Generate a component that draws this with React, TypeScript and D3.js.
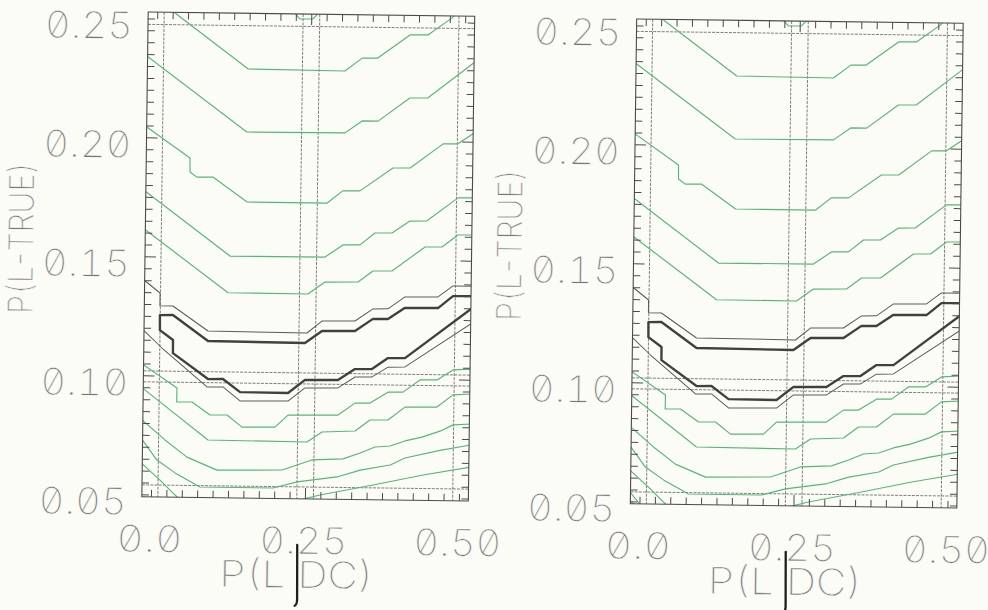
import React from 'react';
import * as d3 from 'd3';

type Pt = [number, number];

// ---- axis text ----
const xTickValues = [0, 0.25, 0.5];
const xTickLabels = ['0.0', '0.25', '0.50'];
const yTickValues = [0.05, 0.1, 0.15, 0.2, 0.25];
const yTickLabels = ['0.05', '0.10', '0.15', '0.20', '0.25'];
const xTitle = ['P(L', '|', 'DC)'];
const yTitle = 'P(L-TRUE)';

// ---- frame / reference values (data units) ----
const xMinorTicks = d3.range(0, 0.5001, 0.025);
const xMajorTicks = [0.25];
const yMinorTicks = d3.range(0.05, 0.2501, 0.005);
const yMajorTicks = [0.1, 0.15, 0.2];
const xRefLines = [0.236, 0.263];
const yRefLines = [0.0975, 0.1021];
const outerBox = [-0.0156, 0.5145, 0.0492, 0.2529];
const innerBox = [0.0104, 0.489, 0.0542, 0.2477];

// ---- contour lines (x = P(L|DC), y = P(L-TRUE)) ----
const green1: Pt[] = [[0.02, 0.2542], [0.028, 0.2526], [0.148, 0.2295], [0.305, 0.2292], [0.333, 0.2347], [0.358, 0.2348], [0.41, 0.2447], [0.439, 0.2448], [0.478, 0.2521], [0.486, 0.2545]];
const green1b: Pt[] = [[0.221, 0.2536], [0.2308, 0.2508], [0.2519, 0.2509], [0.262, 0.2536]];
const green2: Pt[] = [[-0.02, 0.235], [0.147, 0.203], [0.3065, 0.2032], [0.334, 0.2083], [0.36, 0.2083], [0.411, 0.2182], [0.44, 0.2183], [0.52, 0.2345]];
const green3: Pt[] = [[-0.02, 0.2054], [0.0554, 0.1918], [0.0557, 0.1859], [0.067, 0.1838], [0.093, 0.1839], [0.149, 0.1736], [0.279, 0.1736], [0.304, 0.1788], [0.332, 0.1789], [0.385, 0.1887], [0.413, 0.1888], [0.466, 0.1991], [0.49, 0.1992], [0.52, 0.2045]];
const green4: Pt[] = [[-0.02, 0.1783], [0.1224, 0.1508], [0.2766, 0.1509], [0.3055, 0.1561], [0.3331, 0.1562], [0.3573, 0.1613], [0.3849, 0.1614], [0.4138, 0.1665], [0.4414, 0.1667], [0.4912, 0.1765], [0.52, 0.1766]];
const green5: Pt[] = [[-0.02, 0.1622], [0.12, 0.1354], [0.2498, 0.1353], [0.2771, 0.1404], [0.3307, 0.1406], [0.3549, 0.1453], [0.3857, 0.1454], [0.4388, 0.1557], [0.4664, 0.1558], [0.492, 0.1609], [0.52, 0.161]];
const green6: Pt[] = [[-0.02, 0.1054], [0.0391, 0.0951], [0.039, 0.0892], [0.0638, 0.0893], [0.0933, 0.0839], [0.1209, 0.084], [0.1455, 0.079], [0.199, 0.0792], [0.22, 0.0843], [0.3011, 0.0846], [0.3284, 0.0897], [0.3528, 0.0898], [0.3818, 0.0945], [0.4062, 0.0946], [0.4334, 0.0998], [0.461, 0.0999], [0.4869, 0.1042], [0.52, 0.1047]];
const green7: Pt[] = [[-0.02, 0.0955], [0.0906, 0.0734], [0.2513, 0.0731], [0.2755, 0.0774], [0.3291, 0.078], [0.3531, 0.0827], [0.3823, 0.0828], [0.4096, 0.0883], [0.4615, 0.0885], [0.4873, 0.0937], [0.52, 0.0942]];
const green8: Pt[] = [[-0.02, 0.0822], [0.0208, 0.0732], [0.0568, 0.0661], [0.1058, 0.0608], [0.2114, 0.0612], [0.2356, 0.0634], [0.2597, 0.0656], [0.3101, 0.0662], [0.3377, 0.0688], [0.3619, 0.0714], [0.3862, 0.0719], [0.4104, 0.0741], [0.4378, 0.0758], [0.467, 0.0784], [0.488, 0.0811], [0.52, 0.0816]];
const green9: Pt[] = [[-0.02, 0.0745], [0.0081, 0.0647], [0.0377, 0.0594], [0.0786, 0.0536], [0.1971, 0.0536], [0.236, 0.0563], [0.3008, 0.0586], [0.3383, 0.0616], [0.387, 0.0639], [0.4107, 0.0669], [0.4674, 0.0703], [0.52, 0.0729]];
const green10a: Pt[] = [[-0.02, 0.064], [0.0135, 0.0563], [0.0382, 0.0501], [0.0513, 0.0472], [0.06, 0.045]];
const green10b: Pt[] = [[0.225, 0.045], [0.2364, 0.0484], [0.2735, 0.0509], [0.3594, 0.0554], [0.4406, 0.0599], [0.52, 0.0636]];
// extra short contours only present in the right-hand panel's lower-left corner
const greenCornerR1: Pt[] = [[-0.02, 0.0552], [-0.0032, 0.05], [0.004, 0.047]];
const greenCornerR2: Pt[] = [[-0.02, 0.0515], [-0.009, 0.0488]];

const blackThinUpper: Pt[] = [[-0.02, 0.141], [0.0096, 0.1349], [0.0097, 0.1295], [0.0308, 0.1295], [0.0883, 0.1192], [0.249, 0.1189], [0.2731, 0.124], [0.3266, 0.1242], [0.3557, 0.1294], [0.38, 0.1295], [0.4073, 0.1346], [0.4609, 0.1348], [0.4851, 0.1395], [0.52, 0.1395]];
const blackThick: Pt[] = [[0.52, 0.1353], [0.4852, 0.1352], [0.4612, 0.1301], [0.4076, 0.13], [0.3802, 0.1252], [0.3558, 0.1252], [0.3269, 0.12], [0.2734, 0.1198], [0.2459, 0.1147], [0.0885, 0.115], [0.031, 0.1257], [0.0099, 0.1256], [0.0102, 0.1193], [0.0317, 0.1152], [0.0318, 0.1097], [0.0893, 0.099], [0.1136, 0.0991], [0.1416, 0.0937], [0.2195, 0.0936], [0.2468, 0.0992], [0.3003, 0.0993], [0.3276, 0.104], [0.3552, 0.1041], [0.381, 0.1088], [0.4086, 0.1089], [0.52, 0.1309]];
const blackThinLower: Pt[] = [[-0.02, 0.12], [0.014, 0.1118], [0.0878, 0.0957], [0.1138, 0.0958], [0.1417, 0.09], [0.2196, 0.0902], [0.2469, 0.0958], [0.3005, 0.096], [0.3279, 0.1007], [0.3555, 0.1008], [0.3812, 0.105], [0.4088, 0.1052], [0.52, 0.1245]];

const greenLines = [green1, green1b, green2, green3, green4, green5, green6, green7, green8, green9, green10a, green10b];
const greenLinesRightExtra = [greenCornerR1, greenCornerR2];
const thinBlackLines = [blackThinUpper, blackThinLower];
const thickBlackLines = [blackThick];

// ---- look ----
const BG = '#fcfcf7';
const GREEN = '#55b775';
const FONT = 'Inter, "DejaVu Sans Mono", monospace';
const TEXT = '#767676';

const W = 988;
const H = 610;

const x = d3.scaleLinear().domain([0, 0.5]).range([154.6, 462.6]);
const y = d3.scaleLinear().domain([0.05, 0.25]).range([497, 21]);
const line = d3.line<Pt>().x((d) => x(d[0])).y((d) => y(d[1]));

const textStyle = {
  fontFamily: FONT,
  fontWeight: 200,
  fontFeatureSettings: '"zero" 1, "tnum" 1',
  fill: TEXT,
  stroke: BG,
  strokeWidth: 0.5,
} as const;

function Panel({ dx, dy, id, extra }: { dx: number; dy: number; id: string; extra: Pt[][] }) {
  const [ox0, ox1, oy0, oy1] = outerBox;
  const [ix0, ix1, iy0, iy1] = innerBox;
  const cx = (x(ox0) + x(ox1)) / 2;
  const cy = (y(oy0) + y(oy1)) / 2;
  const L = x(ox0), R = x(ox1), T = y(oy1), B = y(oy0);
  const titleX = (x(0) + x(0.5)) / 2 - 7.6;
  const greens = greenLines.concat(extra);
  return (
    <g transform={`translate(${dx},${dy}) rotate(0.75,${cx},${cy})`}>
      <defs>
        <clipPath id={id}>
          <rect x={L} y={T} width={R - L} height={B - T} />
        </clipPath>
      </defs>

      {/* inner frame and reference lines */}
      <g stroke="#707070" strokeWidth={0.9} strokeDasharray="3 1.2" fill="none">
        <line x1={x(ix0)} x2={x(ix0)} y1={T} y2={B} />
        <line x1={x(ix1)} x2={x(ix1)} y1={T} y2={B} />
        <line x1={L} x2={R} y1={y(iy1)} y2={y(iy1)} />
        <line x1={L} x2={R} y1={y(iy0)} y2={y(iy0)} />
        {xRefLines.map((v, i) => (
          <line key={'xr' + i} x1={x(v)} x2={x(v)} y1={T} y2={B} />
        ))}
        {yRefLines.map((v, i) => (
          <line key={'yr' + i} x1={L} x2={R} y1={y(v)} y2={y(v)} />
        ))}
      </g>

      {/* contours */}
      <g clipPath={`url(#${id})`} fill="none" strokeLinejoin="round">
        {greens.map((d, i) => (
          <path key={'g' + i} d={line(d) || ''} stroke={GREEN} strokeWidth={1.15} />
        ))}
        {thinBlackLines.map((d, i) => (
          <path key={'bt' + i} d={line(d) || ''} stroke="#5a5a5a" strokeWidth={1} />
        ))}
        {thickBlackLines.map((d, i) => (
          <path key={'bk' + i} d={line(d) || ''} stroke="#404040" strokeWidth={2.4} />
        ))}
      </g>

      {/* outer frame */}
      <rect x={L} y={T} width={R - L} height={B - T} fill="none" stroke="#4a4a4a" strokeWidth={1.1} />

      {/* ticks */}
      <g stroke="#4a4a4a" strokeWidth={1}>
        {xMinorTicks.map((v, i) => {
          const len = xMajorTicks.some((m) => Math.abs(m - v) < 1e-6) ? 11 : 7;
          return (
            <g key={'xt' + i}>
              <line x1={x(v)} x2={x(v)} y1={T} y2={T + len} />
              <line x1={x(v)} x2={x(v)} y1={B} y2={B - len} />
            </g>
          );
        })}
        {yMinorTicks.map((v, i) => {
          const len = yMajorTicks.some((m) => Math.abs(m - v) < 1e-6) ? 11 : 7;
          return (
            <g key={'yt' + i}>
              <line x1={L} x2={L + len} y1={y(v)} y2={y(v)} />
              <line x1={R} x2={R - len} y1={y(v)} y2={y(v)} />
            </g>
          );
        })}
      </g>

      {/* tick labels */}
      {yTickValues.map((v, i) => (
        <text key={'yl' + i} x={L - 15} y={y(v) + 20} textAnchor="end" fontSize={37}
          textLength={88} lengthAdjust="spacingAndGlyphs" style={textStyle}>
          {yTickLabels[i]}
        </text>
      ))}
      {xTickValues.map((v, i) => (
        <text key={'xl' + i} x={x(v) - 1.5} y={B + 55} textAnchor="middle" fontSize={37}
          textLength={xTickLabels[i].length * 22} lengthAdjust="spacingAndGlyphs" style={textStyle}>
          {xTickLabels[i]}
        </text>
      ))}

      {/* axis titles */}
      <text transform={`translate(33,${cy - 15}) rotate(-90)`} textAnchor="middle" fontSize={34}
        textLength={152} lengthAdjust="spacingAndGlyphs" style={textStyle}>
        {yTitle}
      </text>
      <text x={titleX} y={B + 89} textAnchor="middle" fontSize={37}
        textLength={155} lengthAdjust="spacingAndGlyphs" style={textStyle}>
        {xTitle[0]}
        <tspan fillOpacity={0} strokeOpacity={0}>{xTitle[1]}</tspan>
        {xTitle[2]}
      </text>
      <path d={`M${titleX},${B + 46} L${titleX + 0.6},${B + 101} Q${titleX + 0.4},${B + 106} ${titleX - 1.8},${B + 107}`}
        fill="none" stroke="#1e1e1e" strokeWidth={2.3} strokeLinecap="round" />
    </g>
  );
}

export default function App() {
  return (
    <svg width={W} height={H} viewBox={`0 0 ${W} ${H}`}
      style={{ position: 'absolute', left: 0, top: 0, display: 'block' }}>
      <rect x={0} y={0} width={W} height={H} fill={BG} />
      <Panel dx={0} dy={0} id="clipLeft" extra={[]} />
      <Panel dx={488.5} dy={7} id="clipRight" extra={greenLinesRightExtra} />
    </svg>
  );
}
